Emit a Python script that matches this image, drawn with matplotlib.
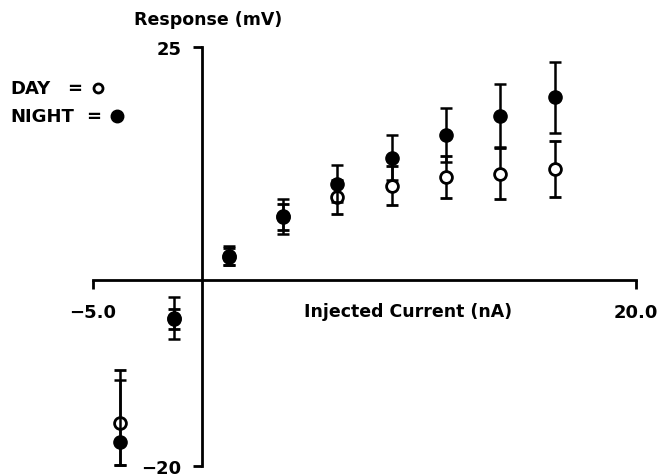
"""
Day vs night response to injected current (re-drawn from a scanned figure).
"""

import matplotlib
matplotlib.use("Agg")
import matplotlib.pyplot as plt

# --- Data ---
current = [-3.75, -1.25, 1.25, 3.75, 6.25, 8.75, 11.25, 13.75, 16.25]

day_mv       = [-15.4, -4.2, 2.5, 6.7, 8.9, 10.1, 11.0, 11.4, 11.9]
day_err_lo   = [4.5, 1.1, 0.9, 1.4, 1.8, 2.1, 2.2, 2.7, 3.0]
day_err_hi   = [5.7, 1.1, 0.9, 1.4, 1.8, 2.1, 2.3, 2.7, 3.0]

night_mv     = [-17.4, -4.1, 2.6, 6.8, 10.3, 13.1, 15.5, 17.6, 19.6]
night_err_lo = [2.5, 2.3, 1.0, 1.9, 2.0, 2.4, 2.9, 3.3, 3.8]
night_err_hi = [6.6, 2.2, 1.0, 1.9, 2.0, 2.4, 3.0, 3.4, 3.8]

x_ticks  = [-5, 20]
x_labels = ["\u22125.0", "20.0"]
y_ticks  = [-20, 25]
y_labels = ["\u221220", "25"]

plt.rcParams.update({
    "font.family": ["DejaVu Sans"],
    "font.weight": "bold",
    "font.size": 12.5,
})

fig = plt.figure(figsize=(6.59, 4.77), dpi=100)
ax = fig.add_axes([93 / 659, 1 - 467 / 477, 543 / 659, 419 / 477])

# Day first (open circles), night on top (filled)
ax.errorbar(current, day_mv, yerr=[day_err_lo, day_err_hi], fmt="o",
            color="black", mfc="white", mec="black", mew=2, ms=8.5,
            elinewidth=1.8, capsize=4.5, capthick=1.8, zorder=3)
ax.errorbar(current, night_mv, yerr=[night_err_lo, night_err_hi], fmt="o",
            color="black", ms=9.5, elinewidth=1.8, capsize=4.5,
            capthick=1.8, zorder=4)

ax.set_xlim(-5, 20)
ax.set_ylim(-20, 25)

# Axes cross at the origin
for side in ["top", "right"]:
    ax.spines[side].set_visible(False)
ax.spines["left"].set_position(("data", 0))
ax.spines["bottom"].set_position(("data", 0))
for side in ["left", "bottom"]:
    ax.spines[side].set_linewidth(2)

ax.set_xticks(x_ticks, labels=x_labels)
ax.set_yticks(y_ticks, labels=y_labels)
ax.tick_params(axis="x", direction="out", length=6.5, width=2, pad=10,
               labelsize=13)
ax.tick_params(axis="y", direction="out", length=6.5, width=2, pad=8,
               labelsize=13)
ax.set_facecolor("none")

# Axis titles
ax.text(9.5, -3.35, "Injected Current (nA)", ha="center", va="center",
        fontsize=12.5, fontweight="bold")
ax.text(0.3, 28.0, "Response (mV)", ha="center", va="center",
        fontsize=12.5, fontweight="bold", clip_on=False)

# Hand-made key in the upper left
key_rows = [("DAY", 89, 75), ("NIGHT", 117, 94)]
for word, y_px, eq_px in key_rows:
    fig.text(10 / 659, 1 - y_px / 477, word, ha="left", va="center",
             fontsize=13, fontweight="bold")
    fig.text(eq_px / 659, 1 - y_px / 477, "=", ha="center", va="center",
             fontsize=13, fontweight="bold")
fig.add_artist(plt.Line2D([98 / 659], [1 - 89 / 477], marker="o", ms=6.5,
                          mfc="white", mec="black", mew=2,
                          transform=fig.transFigure))
fig.add_artist(plt.Line2D([117 / 659], [1 - 117 / 477], marker="o", ms=9,
                          color="black", transform=fig.transFigure))

plt.savefig("out.png", dpi=100)
plt.close()
